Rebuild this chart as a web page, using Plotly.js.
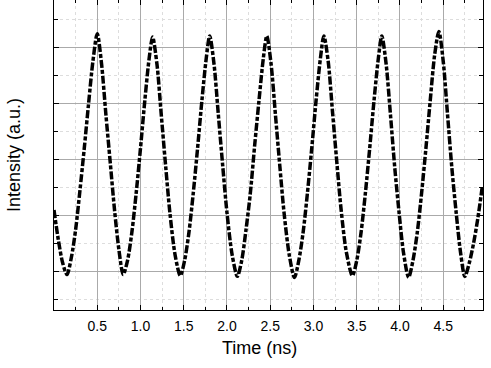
<!DOCTYPE html>
<html>
<head>
<meta charset="utf-8">
<script src="https://cdn.plot.ly/plotly-3.0.1.min.js"></script>
<style>
  html, body { margin: 0; padding: 0; background: #fff; }
  #chart { width: 491px; height: 368px; }
</style>
</head>
<body>
<div id="chart"></div>
<script>
// values (time in ns, intensity in arbitrary units)
const time = [
  0.00, 0.05, 0.10, 0.15,
  0.20, 0.25, 0.30, 0.35, 0.40, 0.45, 0.50, 0.55, 0.60, 0.65, 0.70, 0.75, 0.80,
  0.85, 0.90, 0.95, 1.00, 1.05, 1.10, 1.14, 1.19, 1.24, 1.29, 1.34, 1.40, 1.46,
  1.51, 1.56, 1.61, 1.66, 1.71, 1.76, 1.80, 1.85, 1.90, 1.95, 2.00, 2.06, 2.12,
  2.17, 2.22, 2.27, 2.32, 2.37, 2.42, 2.46, 2.51, 2.56, 2.61, 2.66, 2.72, 2.78,
  2.83, 2.88, 2.93, 2.98, 3.03, 3.08, 3.12, 3.17, 3.22, 3.27, 3.32, 3.38, 3.45,
  3.50, 3.55, 3.60, 3.65, 3.70, 3.75, 3.79, 3.84, 3.89, 3.94, 3.99, 4.04, 4.10,
  4.15, 4.20, 4.25, 4.30, 4.35, 4.40, 4.45, 4.50, 4.55, 4.60, 4.65, 4.70, 4.75,
  4.80, 4.85, 4.90, 4.95
];
const intensity = [
  2.10, 1.57, 1.16, 0.95,
  1.25, 1.75, 2.45, 3.20, 4.00, 4.75, 5.24, 4.70, 3.80, 2.95, 2.10, 1.40, 0.95,
  1.20, 1.70, 2.40, 3.20, 4.05, 4.80, 5.18, 4.70, 3.80, 2.90, 2.05, 1.30, 0.93,
  1.20, 1.70, 2.40, 3.20, 4.05, 4.80, 5.20, 4.70, 3.80, 2.90, 2.05, 1.30, 0.92,
  1.20, 1.75, 2.40, 3.25, 4.05, 4.80, 5.20, 4.70, 3.80, 2.90, 2.05, 1.30, 0.90,
  1.20, 1.70, 2.40, 3.20, 4.05, 4.80, 5.20, 4.75, 3.85, 2.95, 2.10, 1.35, 0.93,
  1.20, 1.70, 2.40, 3.20, 4.05, 4.80, 5.20, 4.70, 3.80, 2.85, 2.05, 1.35, 0.90,
  1.20, 1.70, 2.40, 3.20, 4.05, 4.85, 5.28, 4.75, 3.80, 2.85, 2.05, 1.35, 0.92,
  1.15, 1.50, 1.95, 2.50
];
const xTickVals = [0.5, 1.0, 1.5, 2.0, 2.5, 3.0, 3.5, 4.0, 4.5];
const xTickText = ['0.5', '1.0', '1.5', '2.0', '2.5', '3.0', '3.5', '4.0', '4.5'];

const font = { family: 'Liberation Sans, Arial, sans-serif', color: '#000' };

const trace = {
  x: time,
  y: intensity,
  type: 'scatter',
  mode: 'lines',
  line: { color: '#000', width: 3.5, dash: '8px,2px,4px,2px', shape: 'spline', smoothing: 0.8 },
  hoverinfo: 'skip',
  showlegend: false
};

const layout = {
  width: 491,
  height: 368,
  margin: { l: 54, r: 8, t: 0, b: 58, pad: 0 },
  paper_bgcolor: '#fff',
  plot_bgcolor: '#fff',
  font: { ...font, size: 14 },
  xaxis: {
    range: [0, 4.96],
    tickmode: 'array',
    tickvals: xTickVals,
    ticktext: xTickText,
    ticks: 'inside',
    ticklen: 5,
    tickcolor: '#000',
    ticklabelstandoff: 3,
    showline: true,
    linecolor: '#000',
    linewidth: 1,
    mirror: 'ticks',
    showgrid: true,
    gridcolor: '#aaa',
    gridwidth: 1,
    zeroline: false,
    tickfont: { ...font, size: 14 },
    minor: { dtick: 0.25, ticks: 'inside', ticklen: 3, tickcolor: '#000', showgrid: true, gridcolor: '#ddd', griddash: 'dot' }
  },
  yaxis: {
    range: [0.32, 5.84],
    tick0: 0,
    dtick: 1,
    ticks: 'inside',
    ticklen: 5,
    tickcolor: '#000',
    showticklabels: false,
    showline: true,
    linecolor: '#000',
    linewidth: 1,
    mirror: 'ticks',
    showgrid: true,
    gridcolor: '#aaa',
    gridwidth: 1,
    zeroline: false,
    title: { text: 'Intensity (a.u.)', font: { ...font, size: 18 }, standoff: 27 },
    minor: { dtick: 0.5, ticks: 'inside', ticklen: 4, tickcolor: '#000', showgrid: true, gridcolor: '#ddd', griddash: 'dot' }
  },
  annotations: [{
    text: 'Time (ns)',
    xref: 'paper', yref: 'paper',
    x: 0.48, y: 0, yshift: -38,
    xanchor: 'center', yanchor: 'middle',
    showarrow: false,
    font: { ...font, size: 18 }
  }]
};

Plotly.newPlot('chart', [trace], layout, { staticPlot: true, displayModeBar: false });
</script>
</body>
</html>
